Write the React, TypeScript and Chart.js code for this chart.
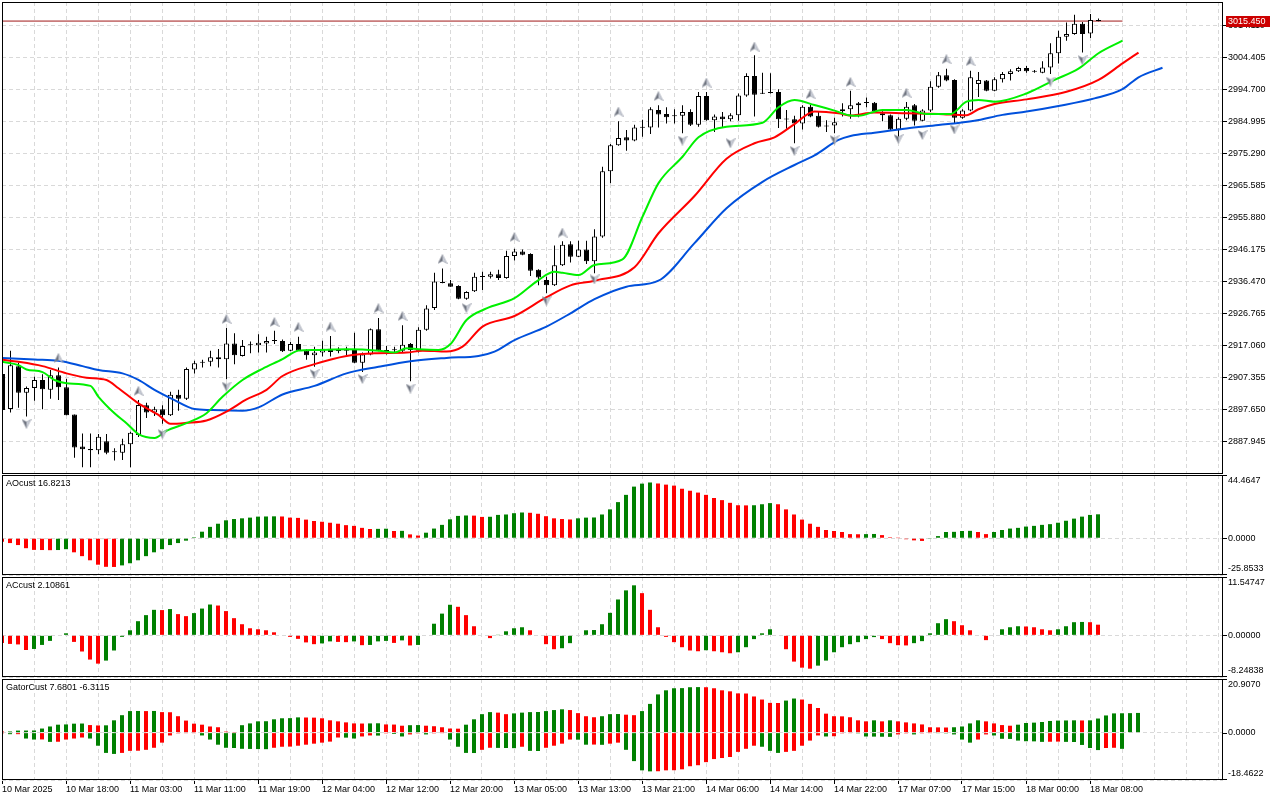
import React, { useEffect, useRef } from "react";
import { Chart, registerables } from "chart.js";

Chart.register(...registerables);

const FONT = '"Liberation Sans", Arial, sans-serif';
const GRID = "#d9d9d9";
const BULL = "#008000";
const BEAR = "#ff0000";

// ---- time axis labels (every 8 hourly bars) ----
const timeLabels = [
  "10 Mar 2025", "10 Mar 18:00", "11 Mar 03:00", "11 Mar 11:00", "11 Mar 19:00", "12 Mar 04:00",
  "12 Mar 12:00", "12 Mar 20:00", "13 Mar 05:00", "13 Mar 13:00", "13 Mar 21:00", "14 Mar 06:00",
  "14 Mar 14:00", "14 Mar 22:00", "17 Mar 07:00", "17 Mar 15:00", "18 Mar 00:00", "18 Mar 08:00",
];

// ---- price axis tick values ----
const priceTicks = [
  3014.11, 3004.405, 2994.7, 2984.995, 2975.29, 2965.585, 2955.88,
  2946.175, 2936.47, 2926.765, 2917.06, 2907.355, 2897.65, 2887.945,
];
const priceMin = 2878.085;
const priceMax = 3021.233;
const lastPrice = 3015.45;

// ---- OHLC ----
const openP = [
  2908.4, 2897.8, 2910.8, 2902.7, 2904.2, 2906.6, 2903.6, 2908.0, 2904.4, 2896.1,
  2886.4, 2885.7, 2885.3, 2888.0, 2884.8, 2884.5, 2887.1, 2889.9, 2898.9, 2896.7,
  2897.7, 2895.9, 2902.1, 2900.9, 2909.8, 2911.8, 2912.1, 2913.5, 2912.9, 2917.7,
  2913.9, 2917.1, 2917.1, 2917.7, 2918.4, 2918.4, 2915.5, 2917.5, 2915.5, 2914.1,
  2914.9, 2916.1, 2915.5, 2915.5, 2916.1, 2911.8, 2914.3, 2922.0, 2915.5, 2915.7,
  2915.5, 2917.5, 2915.5, 2921.8, 2928.4, 2936.1, 2935.9, 2935.1, 2931.2, 2933.5,
  2937.9, 2937.9, 2938.7, 2937.5, 2944.2, 2945.6, 2944.8, 2940.0, 2936.9, 2935.3,
  2941.4, 2947.8, 2944.0, 2946.2, 2942.6, 2950.1, 2969.9, 2977.8, 2980.2, 2979.2,
  2983.2, 2983.2, 2988.5, 2987.3, 2986.7, 2986.7, 2987.9, 2984.0, 2992.7, 2985.4,
  2986.5, 2985.7, 2986.9, 2992.9, 2998.8, 2993.5, 2993.7, 2993.9, 2985.7, 2985.7,
  2984.4, 2989.5, 2986.7, 2983.6, 2983.8, 2988.1, 2988.7, 2989.9, 2990.7, 2990.7,
  2987.5, 2986.9, 2982.6, 2985.8, 2989.9, 2985.2, 2988.3, 2995.5, 2999.0, 2997.6,
  2986.1, 2988.3, 2996.4, 2997.4, 2994.3, 2997.8, 2999.4, 3000.2, 3001.2, 3000.2,
  2999.8, 3001.4, 3005.7, 3010.7, 3011.5, 3014.6, 3011.7, 3015.6,
];
const highP = [
  2911.1, 2915.5, 2911.8, 2904.6, 2907.6, 2908.3, 2909.6, 2910.4, 2907.0, 2896.1,
  2890.4, 2890.4, 2890.2, 2890.2, 2885.9, 2888.8, 2890.9, 2900.5, 2899.7, 2898.5,
  2898.9, 2903.0, 2903.6, 2910.4, 2912.4, 2912.7, 2915.5, 2916.0, 2922.4, 2920.8,
  2918.7, 2918.3, 2920.5, 2919.7, 2921.5, 2918.9, 2918.1, 2919.7, 2915.9, 2916.7,
  2918.5, 2919.9, 2916.5, 2916.7, 2920.9, 2914.9, 2922.2, 2925.4, 2916.9, 2916.7,
  2923.2, 2917.8, 2922.6, 2929.3, 2939.1, 2940.4, 2936.9, 2935.3, 2933.5, 2939.1,
  2939.4, 2939.4, 2940.0, 2945.8, 2946.4, 2946.2, 2945.0, 2940.2, 2937.9, 2947.4,
  2948.7, 2948.7, 2948.8, 2948.8, 2952.3, 2971.3, 2978.2, 2985.1, 2982.4, 2984.0,
  2985.5, 2989.3, 2989.9, 2989.3, 2988.7, 2989.9, 2988.7, 2993.9, 2993.9, 2987.1,
  2987.9, 2987.5, 2993.5, 2999.6, 3005.1, 2999.8, 2999.6, 2994.8, 2988.5, 2986.7,
  2989.9, 2990.1, 2987.9, 2985.4, 2986.1, 2990.5, 2994.3, 2990.9, 2992.3, 2990.9,
  2988.1, 2987.1, 2986.3, 2990.9, 2990.3, 2988.7, 2997.2, 3000.0, 3001.0, 2997.8,
  2988.7, 3000.4, 3000.0, 2997.6, 2998.4, 3000.0, 3000.8, 3001.6, 3001.8, 3000.6,
  3003.3, 3008.7, 3012.5, 3015.0, 3017.4, 3015.2, 3017.6, 3016.2,
];
const lowP = [
  2896.9, 2896.7, 2898.2, 2895.5, 2900.3, 2897.7, 2900.9, 2900.5, 2895.9, 2883.0,
  2880.1, 2880.1, 2884.1, 2884.1, 2882.2, 2882.3, 2880.1, 2889.3, 2895.1, 2895.7,
  2893.3, 2895.7, 2897.3, 2900.5, 2908.6, 2910.4, 2910.8, 2910.4, 2906.8, 2911.4,
  2913.7, 2914.7, 2914.9, 2914.9, 2917.5, 2915.1, 2915.3, 2915.5, 2912.7, 2910.6,
  2913.7, 2913.7, 2914.7, 2913.7, 2911.7, 2909.0, 2914.1, 2915.3, 2914.3, 2915.1,
  2914.9, 2906.2, 2914.9, 2921.5, 2927.8, 2935.9, 2934.9, 2931.1, 2930.9, 2933.3,
  2933.9, 2937.4, 2936.9, 2937.3, 2942.8, 2944.4, 2938.1, 2935.3, 2932.9, 2935.1,
  2941.2, 2942.2, 2943.9, 2941.8, 2939.0, 2949.7, 2966.3, 2977.6, 2976.1, 2979.0,
  2980.4, 2981.2, 2983.2, 2984.4, 2984.4, 2981.4, 2983.6, 2983.4, 2985.2, 2981.8,
  2983.0, 2985.1, 2985.2, 2992.5, 2986.5, 2993.3, 2993.5, 2983.0, 2982.8, 2978.4,
  2982.6, 2986.3, 2983.2, 2981.8, 2981.4, 2986.5, 2985.8, 2986.3, 2989.3, 2987.9,
  2985.1, 2982.4, 2980.4, 2985.4, 2983.8, 2985.1, 2987.9, 2995.2, 2997.2, 2984.4,
  2985.8, 2988.1, 2992.4, 2994.2, 2994.2, 2996.8, 2997.4, 3000.0, 2999.8, 2999.8,
  2999.6, 2999.4, 3002.6, 3009.5, 3011.3, 3005.9, 3010.3, 3015.4,
];
const closeP = [
  2897.5, 2911.1, 2902.7, 2904.2, 2906.6, 2903.8, 2908.0, 2904.4, 2895.9, 2886.1,
  2885.6, 2885.3, 2889.4, 2884.5, 2884.7, 2887.1, 2890.6, 2899.0, 2896.7, 2897.7,
  2895.9, 2902.1, 2900.9, 2909.9, 2911.7, 2912.1, 2913.5, 2912.9, 2917.7, 2914.1,
  2916.9, 2917.2, 2917.9, 2918.4, 2918.5, 2915.3, 2917.5, 2915.5, 2914.1, 2914.9,
  2916.1, 2915.1, 2915.4, 2916.1, 2911.8, 2914.3, 2922.0, 2915.5, 2915.4, 2915.6,
  2917.3, 2915.7, 2921.8, 2928.3, 2936.5, 2936.0, 2934.9, 2931.2, 2933.3, 2937.9,
  2937.8, 2938.7, 2937.5, 2944.2, 2945.6, 2944.6, 2939.7, 2937.7, 2935.3, 2941.4,
  2947.6, 2944.0, 2946.2, 2942.6, 2950.1, 2969.9, 2977.8, 2980.0, 2979.2, 2983.2,
  2983.1, 2988.7, 2987.1, 2986.3, 2986.6, 2987.9, 2984.0, 2992.7, 2985.4, 2986.5,
  2985.7, 2986.9, 2992.9, 2998.8, 2993.1, 2993.4, 2993.6, 2985.7, 2985.6, 2984.4,
  2989.5, 2986.5, 2983.4, 2983.5, 2984.8, 2988.7, 2989.9, 2990.5, 2990.6, 2988.1,
  2986.9, 2982.6, 2985.8, 2989.5, 2985.2, 2988.3, 2995.5, 2999.0, 2997.4, 2986.1,
  2988.3, 2998.4, 2997.6, 2994.3, 2997.8, 2999.4, 3000.2, 3001.2, 3000.2, 3000.1,
  3001.4, 3005.7, 3010.7, 3011.5, 3014.6, 3011.5, 3015.8, 3015.45,
];

// ---- Alligator lines (bar index, price) ----
const jawBars = [0, 4, 7, 10, 12, 15, 17, 19, 21.5, 24, 26, 30, 32, 35, 39, 43, 47, 51, 55.5, 59.5, 61.5, 64, 68, 71, 74, 78, 82, 86.5, 90.5, 95, 99, 101.5, 104.5, 106, 109, 113, 117, 121.5, 125, 128, 132, 136.5, 140, 142, 145];
const jawValues = [2913.3, 2912.8, 2912.4, 2910.8, 2909.6, 2908.6, 2906.6, 2903.6, 2900.5, 2897.8, 2897.5, 2897.3, 2898.3, 2902.2, 2904.8, 2908.6, 2910.6, 2912.3, 2913.3, 2913.9, 2915.2, 2918.7, 2922.8, 2926.8, 2931.1, 2934.9, 2936.7, 2948.1, 2958.7, 2966.7, 2971.8, 2974.7, 2979.4, 2980.6, 2981.6, 2982.9, 2983.9, 2985.2, 2987.0, 2988.0, 2989.7, 2992.0, 2994.8, 2998.4, 3001.3];
const teethBars = [0, 2, 5, 8, 10.5, 13, 14.5, 17, 19.5, 21, 23, 25.5, 28, 30.5, 33, 35, 39, 43, 46.5, 50.5, 52.5, 55.5, 57.5, 60, 64, 68, 71, 74, 79, 82, 86.5, 90.5, 94, 96.5, 99, 101.5, 104.5, 106, 109, 113, 117, 120.5, 122, 124, 128, 133, 137, 140, 142];
const teethValues = [2912.7, 2912.1, 2910.8, 2908.6, 2907.3, 2906.6, 2904.1, 2899.5, 2896.0, 2893.3, 2893.6, 2894.3, 2897.0, 2900.7, 2903.6, 2907.8, 2911.4, 2913.9, 2914.7, 2914.9, 2915.5, 2915.2, 2916.7, 2922.8, 2926.0, 2931.7, 2935.3, 2936.7, 2940.8, 2951.1, 2962.4, 2973.7, 2978.4, 2980.2, 2984.2, 2988.0, 2987.5, 2986.8, 2987.7, 2987.5, 2987.3, 2986.9, 2988.7, 2990.3, 2991.7, 2994.0, 2997.6, 3002.6, 3005.9];
const lipsBars = [0, 2, 3, 5, 6.5, 8, 11, 12, 14, 15.5, 17, 19, 20.5, 23, 25.5, 27.5, 30, 32.5, 35, 37, 39, 43, 47, 49, 50.5, 52, 54.5, 56, 58, 60.5, 64, 67, 69, 70, 72, 74, 77.5, 80, 82, 85, 87, 90.5, 95, 97, 99, 101.5, 104, 106, 107, 110, 113, 115.5, 118.5, 120.5, 122, 124, 128, 131.5, 134.5, 137, 140];
const lipsValues = [2912.1, 2911.1, 2909.8, 2909.0, 2906.6, 2905.6, 2904.8, 2901.5, 2896.5, 2893.5, 2890.2, 2889.0, 2891.2, 2893.5, 2896.5, 2901.5, 2906.6, 2910.0, 2912.9, 2915.5, 2915.7, 2915.9, 2915.5, 2914.9, 2916.2, 2915.9, 2915.7, 2917.5, 2924.8, 2928.3, 2931.4, 2936.9, 2939.4, 2939.1, 2938.4, 2941.5, 2943.2, 2956.1, 2966.3, 2974.3, 2980.2, 2983.4, 2984.6, 2989.3, 2991.5, 2990.0, 2988.3, 2986.8, 2986.7, 2988.5, 2988.5, 2987.3, 2987.3, 2991.0, 2991.5, 2991.0, 2993.5, 2997.6, 3001.0, 3005.7, 3009.5];

// ---- Fractals ----
const fractalUpBars = [7, 17, 28, 34, 37, 41, 47, 50, 55, 64, 70, 77, 82, 88, 94, 101, 106, 113, 118, 121];
const fractalUpValues = [2913.3, 2903.3, 2925.1, 2924.2, 2922.7, 2922.8, 2928.4, 2926.0, 2943.3, 2950.0, 2951.3, 2988.0, 2992.7, 2996.8, 3007.7, 2993.3, 2997.0, 2993.7, 3003.9, 3003.3];
const fractalDownBars = [3, 11, 16, 20, 28, 39, 45, 51, 58, 68, 74, 85, 91, 99, 104, 112, 115, 119, 131, 135];
const fractalDownValues = [2893.3, 2876.9, 2876.9, 2890.2, 2904.6, 2908.4, 2906.9, 2904.0, 2928.4, 2930.6, 2937.1, 2979.2, 2978.4, 2976.1, 2979.4, 2979.7, 2980.9, 2982.6, 2997.1, 3003.6];

// ---- Awesome Oscillator ----
const aoValues = [
  -2.4, -3.4, -4.8, -7.0, -8.2, -8.3, -8.4, -8.3, -7.7, -9.9,
  -12.6, -15.5, -18.6, -20.1, -20.2, -19.1, -17.6, -15.5, -12.6, -9.9,
  -7.7, -4.8, -3.4, -1.7, 0.7, 4.6, 8.0, 10.2, 12.6, 13.5,
  14.0, 14.5, 15.2, 15.3, 15.4, 15.3, 14.5, 14.3, 13.1, 12.1,
  11.6, 10.9, 10.2, 9.2, 8.7, 7.3, 6.5, 6.6, 6.7, 5.1,
  5.2, 2.7, 1.9, 3.9, 6.8, 9.4, 13.3, 15.7, 16.0, 15.9,
  15.0, 15.1, 16.4, 16.7, 17.6, 18.1, 17.9, 17.2, 15.5, 14.0,
  13.5, 13.2, 14.0, 14.5, 14.6, 16.7, 20.3, 25.4, 30.5, 36.3,
  38.4, 39.2, 38.5, 37.7, 37.0, 34.8, 33.4, 32.1, 30.5, 28.3,
  26.8, 24.9, 23.2, 23.1, 23.2, 23.9, 24.7, 23.9, 20.3, 16.7,
  13.1, 10.2, 8.0, 5.8, 5.1, 4.4, 2.9, 2.8, 2.9, 3.0,
  2.2, 0.7, 0.1, -0.7, -1.5, -1.9, -0.2, 1.5, 4.4, 4.5,
  5.1, 5.2, 4.4, 2.9, 4.4, 5.8, 6.8, 7.3, 8.2, 8.7,
  9.4, 9.9, 10.9, 12.3, 13.8, 15.2, 16.4, 16.8213,
];
const aoScale = [44.4647, 0, -25.8533];

// ---- Accelerator Oscillator ----
const acValues = [
  -1.5, -1.7, -1.8, -2.9, -2.7, -1.9, -1.1, 0.1, 0.4, -1.3,
  -3.2, -4.8, -5.6, -5.0, -3.0, -0.3, 1.0, 2.8, 4.0, 5.05,
  5.0, 5.2, 4.2, 3.8, 4.4, 5.3, 6.1, 5.9, 4.8, 3.4,
  2.2, 1.4, 1.2, 1.0, 0.6, -0.1, -0.3, -0.7, -1.4, -1.75,
  -1.6, -1.2, -1.3, -1.35, -1.2, -1.95, -1.9, -1.2, -1.1, -1.5,
  -1.0, -2.0, -1.9, 0.1, 2.3, 4.3, 6.05, 5.65, 4.0, 1.8,
  -0.1, -0.55, 0.05, 0.8, 1.4, 1.6, 1.0, -0.1, -1.75, -2.75,
  -2.55, -1.55, -0.1, 1.0, 1.05, 2.2, 4.45, 7.1, 8.9, 9.9,
  8.35, 5.05, 1.6, -0.3, -1.35, -2.35, -3.0, -3.15, -2.95, -3.15,
  -3.35, -3.55, -3.35, -2.35, -0.75, 0.4, 1.2, -0.1, -2.75, -5.2,
  -6.4, -6.6, -6.0, -5.0, -3.35, -2.35, -1.75, -1.35, -0.75, -0.35,
  -0.75, -1.55, -1.95, -2.0, -1.55, -1.15, 0.4, 2.4, 3.2, 2.8,
  2.0, 1.0, -0.1, -0.95, 0.0, 1.2, 1.6, 1.8, 1.75, 1.6,
  1.2, 1.0, 1.2, 1.8, 2.6, 2.65, 2.6, 2.10861,
];
const acScale = [11.54747, 0, -8.24838];

// ---- Gator Oscillator ----
const gatorUpper = [
  0.4, 0.45, 0.8, 0.82, 0.85, 1.6, 2.4, 3.1, 3.2, 3.5,
  3.55, 2.95, 2.8, 2.85, 4.8, 6.8, 8.4, 8.45, 8.4, 8.45,
  8.0, 7.95, 6.4, 4.7, 3.5, 3.1, 2.4, 2.1, 0.4, 0.1,
  2.9, 3.6, 4.4, 4.45, 5.2, 5.6, 5.65, 5.95, 5.9, 5.85,
  5.6, 4.8, 4.4, 4.0, 3.6, 3.55, 3.6, 3.65, 3.2, 3.15,
  2.7, 2.9, 2.95, 2.7, 2.5, 2.1, 1.6, 1.55, 3.1, 5.2,
  7.2, 8.0, 7.8, 7.2, 7.5, 7.8, 8.0, 8.05, 8.4, 8.8,
  9.1, 8.8, 7.6, 6.4, 6.0, 6.4, 7.2, 7.25, 7.0, 6.8,
  8.4, 11.2, 14.9, 16.5, 17.3, 17.35, 17.7, 17.75, 17.7, 17.3,
  16.5, 16.1, 15.3, 15.25, 14.1, 12.9, 11.6, 11.55, 12.5, 13.3,
  12.9, 11.2, 9.6, 7.4, 6.4, 6.35, 6.0, 4.8, 4.4, 4.8,
  4.4, 4.8, 4.4, 4.0, 3.6, 3.2, 2.1, 2.05, 2.0, 2.1,
  2.4, 3.6, 4.8, 4.4, 3.6, 2.95, 2.7, 3.1, 3.75, 3.9,
  4.15, 4.55, 4.7, 4.75, 4.8, 4.75, 4.8, 5.5, 6.7, 7.5,
  7.55, 7.6, 7.6801,
];
const gatorLower = [
  0.3, 0.6, 0.6, 2.3, 2.7, 2.65, 3.6, 3.55, 2.7, 2.3,
  1.9, 2.3, 5.1, 7.9, 8.3, 7.9, 7.1, 7.05, 6.7, 5.9,
  3.9, 1.1, 0.3, 0.25, 0.1, 1.1, 2.7, 4.7, 5.9, 6.0,
  6.3, 6.35, 6.4, 6.45, 5.9, 5.5, 5.45, 5.1, 4.7, 4.3,
  3.9, 3.5, 1.9, 1.95, 2.3, 1.5, 1.1, 1.15, 0.3, 0.5,
  1.5, 0.7, 0.3, 0.7, 0.3, 0.05, 2.7, 5.5, 7.9, 7.95,
  6.7, 5.9, 5.95, 6.0, 6.05, 5.5, 7.1, 7.15, 5.9, 5.1,
  4.3, 2.7, 2.75, 4.7, 4.65, 4.75, 4.3, 3.9, 6.7, 11.1,
  14.7, 15.1, 15.05, 14.7, 14.65, 14.3, 13.1, 12.7, 11.5, 10.3,
  9.9, 9.5, 7.5, 6.3, 5.1, 5.5, 7.1, 7.9, 7.5, 7.1,
  5.1, 3.1, 1.1, 1.5, 1.4, 0.3, 0.25, 0.3, 1.5, 1.55,
  1.6, 1.65, 0.7, 0.3, 0.7, 0.3, 0.05, 0.1, 0.3, 0.7,
  2.7, 3.9, 2.7, 0.7, 1.1, 2.4, 2.45, 3.1, 3.35, 3.4,
  3.6, 3.55, 3.5, 3.6, 3.65, 4.8, 6.0, 6.8, 6.0, 5.9,
  6.3115,
];
const gatorScale = [20.907, 0, -18.4622];

// ---------------------------------------------------------------------------

const trendColors = (arr: number[]) =>
  arr.map((v, i) => (i > 0 && v > arr[i - 1] ? BULL : BEAR));

function arrowCanvas(up: boolean) {
  const c = document.createElement("canvas");
  c.width = 10;
  c.height = 10;
  const g = c.getContext("2d")!;
  if (!up) {
    g.translate(0, 10);
    g.scale(1, -1);
  }
  g.fillStyle = "#6e737e";
  g.beginPath();
  g.moveTo(5, 0.5);
  g.lineTo(5, 7);
  g.lineTo(0.5, 9.5);
  g.closePath();
  g.fill();
  g.fillStyle = "#c8ccd6";
  g.beginPath();
  g.moveTo(5, 0.5);
  g.lineTo(9.5, 9.5);
  g.lineTo(5, 7);
  g.closePath();
  g.fill();
  g.strokeStyle = "#9aa0ab";
  g.lineWidth = 0.6;
  g.beginPath();
  g.moveTo(5, 0.5);
  g.lineTo(9.5, 9.5);
  g.lineTo(5, 7);
  g.lineTo(0.5, 9.5);
  g.closePath();
  g.stroke();
  return c;
}

const decorPlugin = {
  id: "paneDecor",
  afterDraw(chart: any, _args: any, opts: any) {
    const { ctx, chartArea: a } = chart;
    ctx.save();
    ctx.setLineDash([]);
    ctx.strokeStyle = "#000";
    ctx.lineWidth = 1;
    ctx.strokeRect(a.left + 0.5, a.top + 0.5, a.right - a.left - 1, a.bottom - a.top - 1);
    ctx.font = `9px ${FONT}`;
    ctx.fillStyle = "#000";
    ctx.textBaseline = "middle";
    ctx.textAlign = "left";
    if (opts && opts.header) ctx.fillText(opts.header, a.left + 4, a.top + 9);
    if (opts && opts.scaleValues) {
      const ys = chart.scales.y;
      const vals: number[] = opts.scaleValues;
      vals.forEach((v: number) => {
        const py = ys.getPixelForValue(v);
        const ty = Math.min(Math.max(Math.round(py), a.top), a.bottom - 1) + 0.5;
        ctx.beginPath();
        ctx.moveTo(a.right, ty);
        ctx.lineTo(a.right + 4, ty);
        ctx.stroke();
        const ly = Math.min(Math.max(py, a.top + 6), a.bottom - 6);
        ctx.fillText(v.toFixed(opts.decimals), a.right + 5, ly);
      });
    }
    if (opts && opts.tag !== undefined && opts.tag !== null) {
      const py = chart.scales.y.getPixelForValue(opts.tag);
      ctx.fillStyle = "#cc0000";
      ctx.fillRect(a.right + 3, Math.round(py) - 5, 44, 11);
      ctx.fillStyle = "#fff";
      ctx.fillText(Number(opts.tag).toFixed(3), a.right + 5, Math.round(py) + 0.5);
    }
    ctx.restore();
  },
};

function xAxis(min: number, max: number, showLabels: boolean) {
  return {
    type: "linear",
    min,
    max,
    offset: false,
    afterBuildTicks: (s: any) => {
      const t: any[] = [];
      for (let v = 0; v <= 152; v += 4) t.push({ value: v });
      s.ticks = t;
    },
    afterFit: (s: any) => {
      s.height = showLabels ? 20 : 0;
      s.paddingLeft = 0;
      s.paddingRight = 0;
    },
    grid: {
      color: GRID,
      lineWidth: 1,
      offset: false,
      drawTicks: showLabels,
      tickLength: 4,
      tickColor: (c: any) => {
        const n = c.tick ? Math.round(c.tick.value) : -1;
        return n >= 0 && n % 8 === 0 && timeLabels[n / 8] ? "#000" : "rgba(0,0,0,0)";
      },
      tickBorderDash: [],
    },
    border: { display: false, dash: [4, 3] },
    ticks: {
      display: showLabels,
      autoSkip: false,
      maxRotation: 0,
      minRotation: 0,
      align: "start",
      padding: 0,
      color: "#000",
      font: { family: FONT, size: 9 },
      callback: (v: any) => {
        const n = Math.round(Number(v));
        return n % 8 === 0 && timeLabels[n / 8] ? timeLabels[n / 8] : "";
      },
    },
  };
}

function subYAxis(vals: number[]) {
  const max = vals[0];
  const min = vals[vals.length - 1];
  return {
    type: "linear",
    position: "right",
    min,
    max,
    afterBuildTicks: (s: any) => {
      s.ticks = vals.map((v) => ({ value: v }));
    },
    afterFit: (s: any) => {
      s.width = 57;
      s.paddingTop = 0;
      s.paddingBottom = 0;
    },
    grid: { color: GRID, drawTicks: false },
    border: { display: false, dash: [4, 3] },
    ticks: { display: false },
  };
}

const baseOptions = {
  responsive: false,
  maintainAspectRatio: false,
  animation: false,
  devicePixelRatio: 1,
  events: [],
};

export default function App() {
  const mainRef = useRef<HTMLCanvasElement>(null);
  const aoRef = useRef<HTMLCanvasElement>(null);
  const acRef = useRef<HTMLCanvasElement>(null);
  const gatorRef = useRef<HTMLCanvasElement>(null);

  useEffect(() => {
    const charts: Chart[] = [];
    const idx = openP.map((_, i) => i);
    const upArrow = arrowCanvas(true);
    const downArrow = arrowCanvas(false);

    // ---------- main price pane ----------
    charts.push(
      new Chart(mainRef.current as HTMLCanvasElement, {
        type: "bar",
        data: {
          datasets: [
            {
              type: "line",
              data: [
                { x: 0, y: lastPrice },
                { x: 140, y: lastPrice },
              ],
              borderColor: "#a01818",
              borderWidth: 1,
              pointRadius: 0,
              order: 12,
              clip: 0,
            },
            {
              type: "bar",
              data: idx.map((i) => ({ x: i, y: [lowP[i], highP[i]] })),
              backgroundColor: "#000",
              borderWidth: 0,
              barThickness: 1,
              grouped: false,
              inflateAmount: 0,
              order: 11,
              clip: 0,
            },
            {
              type: "bar",
              data: idx.map((i) => ({ x: i, y: [openP[i], closeP[i]] })),
              backgroundColor: idx.map((i) => (closeP[i] >= openP[i] ? "#ffffff" : "#000000")),
              borderColor: "#000",
              borderWidth: 1,
              borderSkipped: false,
              barThickness: 5,
              minBarLength: 1,
              grouped: false,
              inflateAmount: 0,
              order: 10,
              clip: 0,
            },
            {
              type: "line",
              data: jawBars.map((b, i) => ({ x: b, y: jawValues[i] })),
              borderColor: "#0050dc",
              borderWidth: 2,
              pointRadius: 0,
              cubicInterpolationMode: "monotone",
              order: 4,
              clip: 0,
            },
            {
              type: "line",
              data: teethBars.map((b, i) => ({ x: b, y: teethValues[i] })),
              borderColor: "#ff0000",
              borderWidth: 2,
              pointRadius: 0,
              cubicInterpolationMode: "monotone",
              order: 3,
              clip: 0,
            },
            {
              type: "line",
              data: lipsBars.map((b, i) => ({ x: b, y: lipsValues[i] })),
              borderColor: "#00f000",
              borderWidth: 2,
              pointRadius: 0,
              cubicInterpolationMode: "monotone",
              order: 2,
              clip: 0,
            },
            {
              type: "line",
              data: fractalUpBars.map((b, i) => ({ x: b, y: fractalUpValues[i] })),
              showLine: false,
              pointStyle: upArrow,
              pointRadius: 5,
              order: 1,
              clip: 0,
            },
            {
              type: "line",
              data: fractalDownBars.map((b, i) => ({ x: b, y: fractalDownValues[i] })),
              showLine: false,
              pointStyle: downArrow,
              pointRadius: 5,
              order: 0,
              clip: 0,
            },
          ],
        },
        options: {
          ...baseOptions,
          layout: { autoPadding: false, padding: { left: 2, right: 0, top: 2, bottom: 1 } },
          plugins: {
            legend: { display: false },
            tooltip: { enabled: false },
            paneDecor: { tag: lastPrice },
          },
          scales: {
            x: xAxis(-0.0625, 152.5625, false),
            y: {
              type: "linear",
              position: "right",
              min: priceMin,
              max: priceMax,
              afterBuildTicks: (s: any) => {
                s.ticks = priceTicks.map((v) => ({ value: v }));
              },
              afterFit: (s: any) => {
                s.width = 57;
                s.paddingTop = 0;
                s.paddingBottom = 0;
              },
              grid: { color: GRID, drawTicks: true, tickLength: 4, tickColor: "#000", tickBorderDash: [] },
              border: { display: false, dash: [4, 3] },
              ticks: {
                color: "#000",
                padding: 1,
                font: { family: FONT, size: 9 },
                callback: (v: any) => Number(v).toFixed(3),
              },
            },
          },
        } as any,
        plugins: [decorPlugin],
      } as any)
    );

    // ---------- AO ----------
    charts.push(
      new Chart(aoRef.current as HTMLCanvasElement, {
        type: "bar",
        data: {
          datasets: [
            {
              data: aoValues.map((v, i) => ({ x: i, y: v })),
              backgroundColor: trendColors(aoValues),
              borderWidth: 0,
              barThickness: 4,
              inflateAmount: 0,
              clip: 0,
            },
          ],
        },
        options: {
          ...baseOptions,
          layout: { autoPadding: false, padding: { left: 2, right: 0, top: 0, bottom: 1 } },
          plugins: {
            legend: { display: false },
            tooltip: { enabled: false },
            paneDecor: {
              header: `AOcust ${aoValues[aoValues.length - 1].toFixed(4)}`,
              scaleValues: aoScale,
              decimals: 4,
            },
          },
          scales: { x: xAxis(0, 152.625, false), y: subYAxis(aoScale) },
        } as any,
        plugins: [decorPlugin],
      } as any)
    );

    // ---------- AC ----------
    charts.push(
      new Chart(acRef.current as HTMLCanvasElement, {
        type: "bar",
        data: {
          datasets: [
            {
              data: acValues.map((v, i) => ({ x: i, y: v })),
              backgroundColor: trendColors(acValues),
              borderWidth: 0,
              barThickness: 4,
              inflateAmount: 0,
              clip: 0,
            },
          ],
        },
        options: {
          ...baseOptions,
          layout: { autoPadding: false, padding: { left: 2, right: 0, top: 0, bottom: 1 } },
          plugins: {
            legend: { display: false },
            tooltip: { enabled: false },
            paneDecor: {
              header: `ACcust ${acValues[acValues.length - 1].toFixed(5)}`,
              scaleValues: acScale,
              decimals: 5,
            },
          },
          scales: { x: xAxis(0, 152.625, false), y: subYAxis(acScale) },
        } as any,
        plugins: [decorPlugin],
      } as any)
    );

    // ---------- Gator ----------
    charts.push(
      new Chart(gatorRef.current as HTMLCanvasElement, {
        type: "bar",
        data: {
          datasets: [
            {
              data: gatorUpper.map((v, i) => ({ x: i, y: v })),
              backgroundColor: trendColors(gatorUpper),
              borderWidth: 0,
              barThickness: 4,
              grouped: false,
              inflateAmount: 0,
              clip: 0,
            },
            {
              data: gatorLower.map((v, i) => ({ x: i, y: -v })),
              backgroundColor: trendColors(gatorLower),
              borderWidth: 0,
              barThickness: 4,
              grouped: false,
              inflateAmount: 0,
              clip: 0,
            },
          ],
        },
        options: {
          ...baseOptions,
          layout: { autoPadding: false, padding: { left: 2, right: 0, top: 0, bottom: 0 } },
          plugins: {
            legend: { display: false },
            tooltip: { enabled: false },
            paneDecor: {
              header: `GatorCust ${gatorUpper[gatorUpper.length - 1].toFixed(4)} ${(-gatorLower[gatorLower.length - 1]).toFixed(4)}`,
              scaleValues: gatorScale,
              decimals: 4,
            },
          },
          scales: { x: xAxis(0, 152.625, true), y: subYAxis(gatorScale) },
        } as any,
        plugins: [decorPlugin],
      } as any)
    );

    return () => charts.forEach((c) => c.destroy());
  }, []);

  const cs = (top: number): React.CSSProperties => ({ position: "absolute", left: 0, top });

  return (
    <div style={{ position: "absolute", left: 0, top: 0, width: 1280, height: 800, background: "#fff" }}>
      <canvas ref={mainRef} width={1280} height={475} style={cs(0)} />
      <canvas ref={aoRef} width={1280} height={101} style={cs(475)} />
      <canvas ref={acRef} width={1280} height={101} style={cs(577)} />
      <canvas ref={gatorRef} width={1280} height={121} style={cs(679)} />
    </div>
  );
}
